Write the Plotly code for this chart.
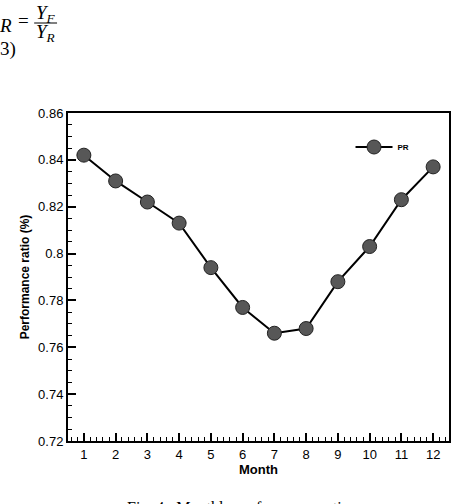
import plotly.graph_objects as go

months = [1, 2, 3, 4, 5, 6, 7, 8, 9, 10, 11, 12]
pr_values = [0.842, 0.831, 0.822, 0.813, 0.794, 0.777, 0.766, 0.768, 0.788, 0.803, 0.823, 0.837]
y_ticks = [0.72, 0.74, 0.76, 0.78, 0.8, 0.82, 0.84, 0.86]
y_tick_labels = ["0.72", "0.74", "0.76", "0.78", "0.8", "0.82", "0.84", "0.86"]

W, H = 462, 504
L, R, T, B = 68, 11, 113, 63
pw, ph = W - L - R, H - T - B

def px(x):
    return (x - L) / pw

def py(y):
    return (H - B - y) / ph

fig = go.Figure()
fig.add_trace(go.Scatter(
    x=months, y=pr_values, mode="lines+markers", name="PR",
    line=dict(color="black", width=2),
    marker=dict(size=14, color="#575757", line=dict(color="#222", width=1)),
))

axis_font = dict(family="Liberation Sans, Arial", size=13, color="black")
fig.update_layout(
    width=W, height=H,
    margin=dict(l=L, r=R, t=T, b=B, pad=0),
    paper_bgcolor="white", plot_bgcolor="white",
    font=axis_font,
    showlegend=True,
    legend=dict(x=px(352), y=py(147), xanchor="left", yanchor="middle",
                bgcolor="rgba(0,0,0,0)", itemwidth=37,
                font=dict(family="Liberation Sans, Arial", size=8, color="black", weight="bold")),
    xaxis=dict(
        range=[0.5, 12.5], tickmode="array", tickvals=months,
        ticks="inside", ticklen=8, tickwidth=1.5, tickcolor="black",
        minor=dict(ticks="inside", ticklen=4, dtick=0.2, tick0=0, tickcolor="black", tickwidth=1),
        showline=True, linecolor="black", linewidth=2, mirror=True,
        showgrid=False, zeroline=False,
        tickfont=axis_font,
        title=dict(text="<b>Month</b>", font=dict(family="Liberation Sans, Arial", size=13), standoff=0),
    ),
    yaxis=dict(
        range=[0.72, 0.86], tickmode="array", tickvals=y_ticks, ticktext=y_tick_labels,
        ticks="inside", ticklen=8, tickwidth=1.5, tickcolor="black",
        minor=dict(ticks="inside", ticklen=4, dtick=0.005, tick0=0.72, tickcolor="black", tickwidth=1),
        showline=True, linecolor="black", linewidth=2, mirror=True,
        showgrid=False, zeroline=False,
        tickfont=axis_font,
        title=dict(text="<b>Performance ratio (%)</b>", font=dict(family="Liberation Sans, Arial", size=12), standoff=6),
    ),
)

serif = dict(family="Liberation Serif, Times New Roman", size=19, color="black")
anns = [
    dict(text="<i>R</i>", x=px(-3), y=py(25), xanchor="left", yanchor="middle", font=serif),
    dict(text="=", x=px(16), y=py(21), xanchor="left", yanchor="middle", font=serif),
    dict(text="<i>Y<sub>F</sub></i>", x=px(34), y=py(14), xanchor="left", yanchor="middle", font=serif),
    dict(text="<i>Y<sub>R</sub></i>", x=px(34), y=py(33), xanchor="left", yanchor="middle", font=serif),
    dict(text="3)", x=px(-2), y=py(49), xanchor="left", yanchor="middle", font=serif),
    dict(text="Fig. 4.  Monthly performance ratio", x=px(239), y=py(508), xanchor="center", yanchor="middle",
         font=dict(family="Liberation Serif, Times New Roman", size=16, color="black")),
]
for a in anns:
    a.update(xref="paper", yref="paper", showarrow=False)
    fig.add_annotation(**a)
fig.add_shape(type="line", xref="paper", yref="paper", x0=px(34), x1=px(57), y0=py(23), y1=py(23),
              line=dict(color="black", width=1))

fig.write_html("out.html")
